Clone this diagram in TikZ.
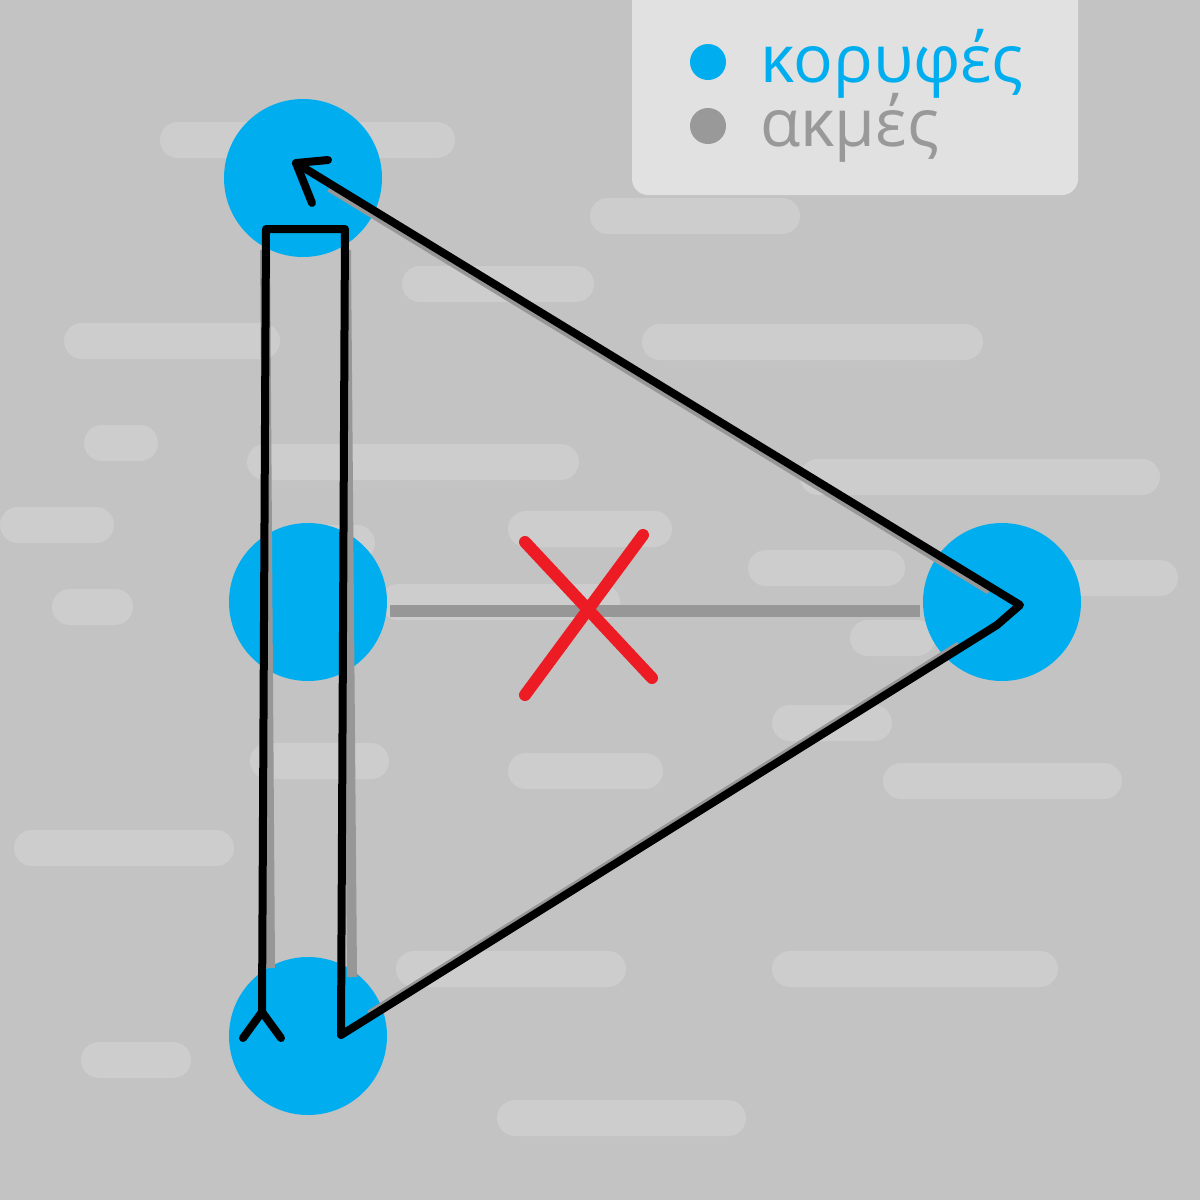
\documentclass[tikz,border=0pt]{standalone}
\usepackage{fontspec}
\setmainfont{Open Sans}
\definecolor{bgc}{HTML}{C3C3C3}
\definecolor{stripc}{HTML}{CDCDCD}
\definecolor{vblue}{HTML}{00AEEF}
\definecolor{edgec}{HTML}{979797}
\definecolor{legc}{HTML}{E1E1E1}
\definecolor{xred}{HTML}{ED1C24}
\definecolor{txtgray}{HTML}{999999}
\tikzset{
  vertex/.style={circle,fill=vblue,minimum size=79pt,inner sep=0pt},
  edgeline/.style={draw=edgec,line width=5pt},
  walk/.style={draw=black,line width=4pt,line cap=round,line join=round},
  cross/.style={draw=xred,line width=6pt,line cap=round},
  legdot/.style={circle,minimum size=18pt,inner sep=0pt},
  legtxt/.style={anchor=base west,inner sep=0pt,font=\fontsize{33}{36}\selectfont},
}
\begin{document}
\begin{tikzpicture}[x=0.5pt,y=-0.5pt]
\fill[bgc] (0,0) rectangle (1200,1200);
\useasboundingbox (0,0) rectangle (1200,1200);
% background strips
\foreach \a/\b/\c in {160/122/455, 590/198/800, 402/266/594, 64/323/280, 642/324/983,
  84/425/158, 247/444/579, 800/459/1160, 0/507/114, 508/511/672, 300/525/375,
  748/550/905, 1040/560/1178, 52/589/133, 380/584/620, 850/620/935, 772/705/892,
  250/743/389, 508/753/663, 883/763/1122, 14/830/234, 396/951/626, 772/951/1058,
  81/1042/191, 497/1100/746}
  \fill[stripc, rounded corners=9pt] (\a,\b) rectangle (\c,{\b+36});
% legend
\fill[legc, rounded corners=8pt] (632,-20) rectangle (1078,195);
\node[legdot,fill=vblue] (ldot1) at (708,62) {};
\node[legdot,fill=txtgray] (ldot2) at (708,126) {};
\node[legtxt,text=vblue] (ltxt1) at (760,82) {κορυφές};
\node[legtxt,text=txtgray] (ltxt2) at (760,146) {ακμές};
% vertices
\node[vertex] (top) at (303,178) {};
\node[vertex] (mid) at (308,602) {};
\node[vertex] (bot) at (308,1036) {};
\node[vertex] (rgt) at (1002,602) {};
% gray edges
\draw[edgeline] (265,250) -- (270,968);
\draw[edgeline] (346,250) -- (352,977);
\draw[edgeline] (330,187) -- (990,590);
\draw[edgeline] (370,1015) -- (960,646);
\path (mid.east) ++(3,9) coordinate (h1) (rgt.west) ++(-3,9) coordinate (h2);
\draw[draw=edgec,line width=6pt] (h1) -- (h2);
% walk
\coordinate (A) at (262,1012);
\coordinate (A1) at (243,1038);
\coordinate (A2) at (281,1038);
\coordinate (B) at (266,229);
\coordinate (C) at (345,229);
\coordinate (D) at (341,1035);
\coordinate (E) at (997,625);
\coordinate (F) at (1020,605);
\coordinate (G) at (296,163);
\coordinate (G1) at (328,160);
\coordinate (G2) at (312,203);
\draw[walk] (A1) -- (A) -- (A2);
\draw[walk] (A) -- (B) -- (C) -- (D) -- (E) -- (F) -- (G);
\draw[walk] (G1) -- (G) -- (G2);
% red cross
\coordinate (X1) at (525,542);
\coordinate (X2) at (652,678);
\coordinate (X3) at (643,535);
\coordinate (X4) at (525,695);
\draw[cross] (X1) -- (X2);
\draw[cross] (X3) -- (X4);
\end{tikzpicture}
\end{document}
